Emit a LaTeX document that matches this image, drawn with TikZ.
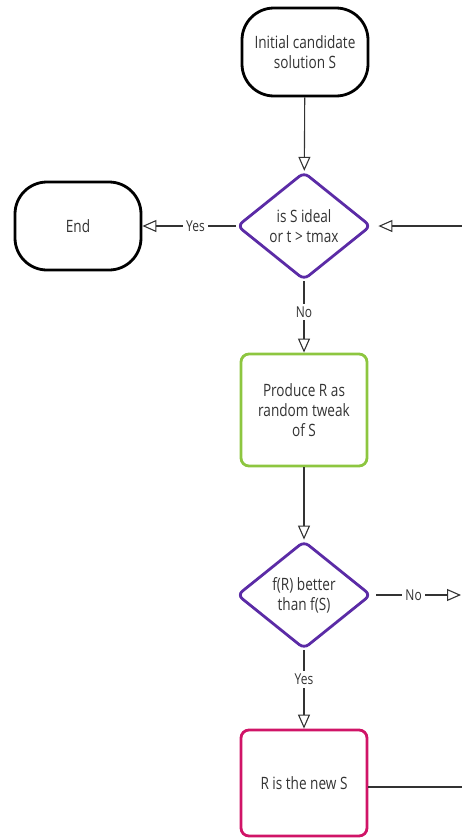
\documentclass[tikz,border=0pt]{standalone}
\usepackage{fontspec}
\setmainfont[FakeStretch=0.8]{Open Sans}
\usetikzlibrary{arrows.meta,shapes.geometric}
\definecolor{ink}{HTML}{333333}
\definecolor{purp}{HTML}{5B2BA6}
\definecolor{leaf}{HTML}{8DC640}
\definecolor{rose}{HTML}{D01467}
\begin{document}
\begin{tikzpicture}[x=1pt,y=-1pt,
  every node/.style={font=\fontsize{17}{20}\selectfont, text=ink, align=center},
  term/.style={draw=black, line width=2.8pt, rounded corners=32pt,
    minimum width=126pt, minimum height=88pt, inner sep=0pt},
  decide/.style={diamond, draw=purp, line width=2.8pt, rounded corners=6pt,
    minimum width=134pt, minimum height=108pt, inner sep=0pt},
  task/.style={draw=#1, line width=2.8pt, rounded corners=8pt,
    minimum width=126pt, inner sep=0pt},
  conn/.style={draw=ink, line width=1.1pt,
    -{Triangle[open,length=14pt,width=12pt]}},
  link/.style={draw=ink, line width=1.1pt},
  lbl/.style={fill=white, inner sep=3pt, font=\fontsize{15}{18}\selectfont}
]
\useasboundingbox (0,0) rectangle (462,838);

% nodes
\node[term] (start) at (305,52) {Initial candidate\\solution S};
\node[decide] (d1) at (304,226) {is S ideal\\or t > tmax};
\node[term] (stop) at (78,226) {End};
\node[task=leaf, minimum height=112pt] (tweak) at (304,410) {Produce R as\\random tweak\\of S};
\node[decide] (d2) at (304,595) {f(R) better\\than f(S)};
\node[task=rose, minimum height=106pt] (accept) at (304,783) {R is the new S};

% loose ends at the right margin
\coordinate (loopin) at (463,226);
\coordinate (reject) at (461,595);
\coordinate (loopout) at (463,787);

% connectors
\draw[conn] (start) -- (d1);
\draw[conn] (d1.west) -- node[lbl, pos=0.43] {Yes} (stop.east);
\draw[conn] (d1.south) -- node[lbl, pos=0.43] {No} (tweak.north);
\draw[conn] (tweak) -- (d2);
\draw[conn] (d2.east) ++(4,0) -- node[lbl, pos=0.44] {No} (reject);
\draw[conn] (d2.south) -- node[lbl, pos=0.37] {Yes} (accept.north);
\draw[conn, shorten >=6pt] (loopin) -- (d1.east);
\draw[link] (accept.east |- loopout) -- (loopout);
\end{tikzpicture}
\end{document}
